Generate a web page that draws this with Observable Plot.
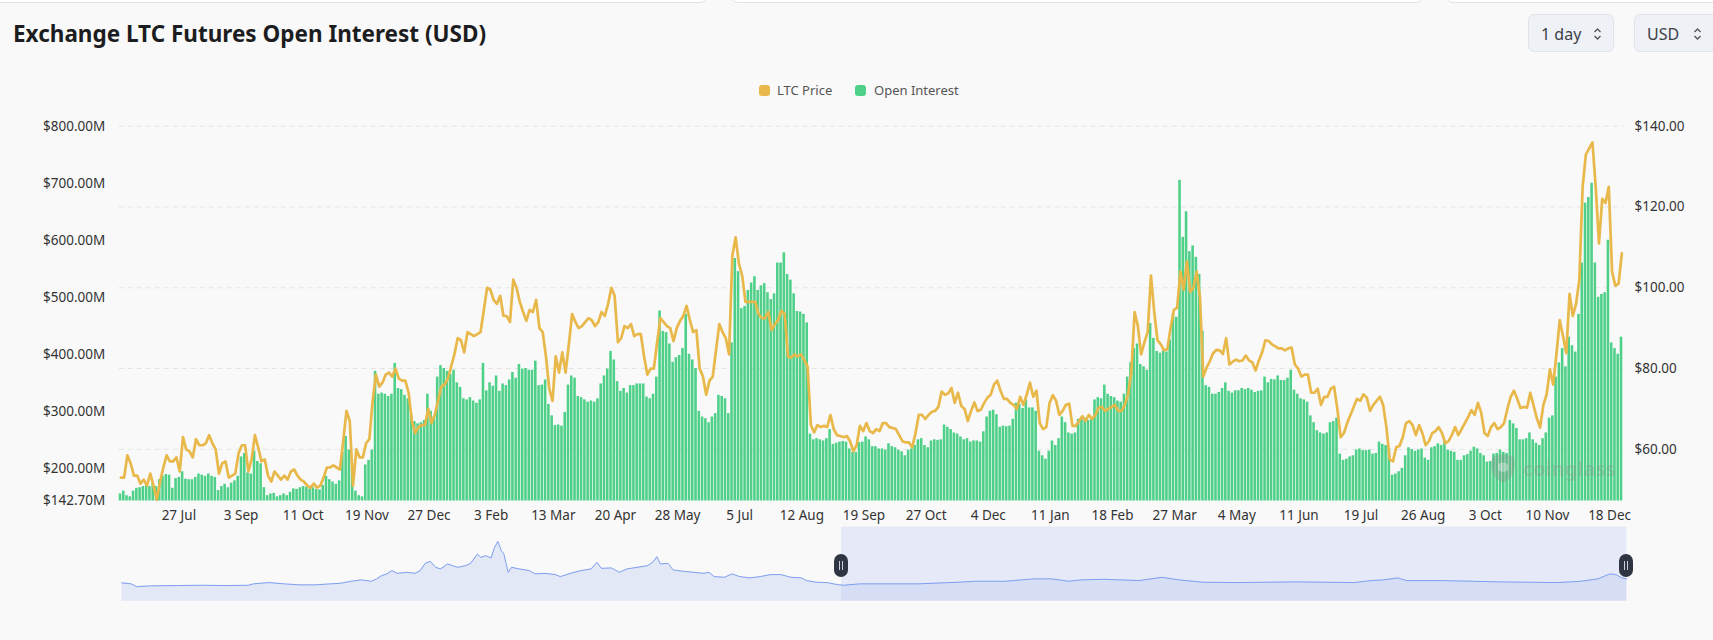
<!DOCTYPE html>
<html>
<head>
<meta charset="utf-8">
<script src="https://cdn.jsdelivr.net/npm/d3@7"></script>
<script src="https://cdn.jsdelivr.net/npm/@observablehq/plot@0.6"></script>
<style>
html,body{margin:0;padding:0;background:#f9f9f9;width:1713px;height:640px;overflow:hidden;font-family:"Noto Sans",sans-serif;}
#page{position:relative;width:1713px;height:640px;}
.card{position:absolute;top:-20px;height:23px;background:#fff;border:1px solid #e2e2e2;border-radius:8px;box-sizing:border-box;}
#title{position:absolute;left:13px;top:18px;font-size:22.5px;font-weight:700;color:#1c1d21;white-space:nowrap;}
.sel{position:absolute;top:14px;height:38px;background:#eef1f5;border:1px solid #e0e4ea;border-radius:6px;font-size:16px;color:#3c4048;box-sizing:border-box;}
.sel span{position:absolute;top:8px;}
.sel svg{position:absolute;top:12px;}
.lg{position:absolute;top:81px;font-size:13px;color:#555;white-space:nowrap;}
.sw{position:absolute;top:85px;width:11px;height:11px;border-radius:3px;}
#main{position:absolute;left:0;top:100px;}
#slider{position:absolute;left:0;top:525px;}
.handle{position:absolute;top:554px;width:14px;height:23px;border-radius:7px;background:#2f3542;}
.handle i{position:absolute;top:7px;width:1px;height:9px;background:#c9ced8;}
#wm{position:absolute;left:1523px;top:455px;font-size:19.5px;font-weight:700;color:rgba(140,140,140,0.3);letter-spacing:0.3px;}
#wmlogo{position:absolute;left:1489px;top:453px;}
</style>
</head>
<body>
<div id="page">
  <div class="card" style="left:-10px;width:718px;"></div>
  <div class="card" style="left:730px;width:694px;"></div>
  <div class="card" style="left:1445px;width:300px;"></div>
  <div id="title">Exchange LTC Futures Open Interest (USD)</div>
  <div class="sel" style="left:1528px;width:86px;"><span style="left:12px;">1 day</span>
    <svg width="9" height="14" viewBox="0 0 9 14" style="left:64px"><path d="M1.5 5 L4.5 2 L7.5 5 M1.5 9 L4.5 12 L7.5 9" fill="none" stroke="#555" stroke-width="1.4"/></svg></div>
  <div class="sel" style="left:1634px;width:95px;"><span style="left:12px;">USD</span>
    <svg width="9" height="14" viewBox="0 0 9 14" style="left:58px"><path d="M1.5 5 L4.5 2 L7.5 5 M1.5 9 L4.5 12 L7.5 9" fill="none" stroke="#555" stroke-width="1.4"/></svg></div>
  <div class="sw" style="left:759px;background:#e8b84a;"></div>
  <div class="lg" style="left:777px;">LTC Price</div>
  <div class="sw" style="left:855px;background:#4fd088;"></div>
  <div class="lg" style="left:874px;">Open Interest</div>
  <div id="main"></div>
  <svg id="wmlogo" width="28" height="31" viewBox="0 0 28 31"><path d="M3 4 Q14 -1 25 4 L26 12 Q26 24 14 30 Q2 24 2 12 Z" fill="rgba(140,140,140,0.3)"/><path d="M9 11 Q14 8 19 11 L19 17 Q14 21 9 17 Z" fill="rgba(249,249,249,0.35)"/></svg>
  <div id="wm">coinglass</div>
  <div id="slider"></div>
  <div class="handle" style="left:834px;"><i style="left:5px"></i><i style="left:8px"></i></div>
  <div class="handle" style="left:1619px;"><i style="left:5px"></i><i style="left:8px"></i></div>
</div>
<script>
// ---- Data: every 2 days from 2022-06-21 ----
const startDate = "2022-06-21";
const stepDays = 2;
const oiValues = [
155,160,152,150,160,165,166,168,170,168,
175,168,180,186,189,188,165,182,184,194,
181,180,180,184,190,188,186,190,186,184,
161,168,172,166,174,178,186,220,226,192,
190,230,212,208,166,152,155,156,150,152,
155,152,158,164,163,166,168,167,164,166,
163,162,170,186,180,176,172,178,228,256,
232,200,160,152,150,206,214,232,370,330,
332,330,326,330,384,340,338,328,322,294,
282,278,280,284,330,300,290,360,380,375,
370,365,372,350,342,322,320,324,318,314,
320,384,336,350,344,362,335,348,345,355,
368,358,382,374,375,372,372,388,345,346,
355,312,292,275,276,274,298,346,362,358,
326,324,320,316,318,316,322,348,362,374,
405,390,352,335,340,332,345,345,348,348,
348,325,322,330,360,476,440,438,418,386,
394,398,410,470,400,390,375,300,290,287,
280,290,296,328,326,322,296,420,568,545,
480,484,512,525,536,512,520,524,508,496,
506,560,560,578,540,530,506,475,474,470,
455,260,250,252,250,248,252,268,242,244,
246,247,246,234,228,228,245,246,255,250,
238,238,234,234,232,243,238,236,232,229,
222,232,234,240,250,252,240,236,248,250,
249,250,276,272,268,262,260,255,250,252,
246,248,248,246,264,290,300,302,294,272,
274,273,274,286,314,312,305,320,306,306,
300,230,222,216,230,248,240,252,290,280,
262,260,262,286,286,288,284,286,320,324,
322,346,330,326,324,318,316,330,360,385,
410,418,382,378,372,454,428,405,402,406,
404,425,470,465,705,605,650,580,590,570,
540,440,345,342,330,330,333,340,350,335,
332,336,336,340,338,340,337,333,335,336,
360,350,356,355,362,354,354,358,372,337,
330,322,320,316,292,280,266,262,260,262,
280,282,288,225,214,216,220,222,232,234,
231,231,232,225,226,246,242,240,235,188,
190,194,200,222,236,233,230,232,234,218,
214,236,238,243,240,248,232,230,228,214,
214,222,224,230,237,234,226,222,211,212,
225,226,232,228,226,284,278,270,250,250,
252,262,250,244,240,252,262,288,292,360,
385,410,378,430,415,404,470,560,665,675,
700,560,500,505,508,600,420,410,400,430];
const priceValues = [
53,53,58.5,56.5,53.5,53.5,51.5,52.5,51,54,
51,47.5,52,55.5,58.5,57,57,58,54.5,63,
60,59.5,58,62.5,61,61,61.5,63.5,61.5,60,
54,56.5,57,53,53.5,54,59,61,61,54.5,
57.5,63.5,60.5,57,57.5,53.5,52,54.5,53.5,52.5,
53.5,52.5,54.5,55,53.5,52.5,52,51,50.5,51.5,
50.5,51,53,55.5,55.5,56,55.5,55,62,69.5,
67,51,60,58,58,61.5,62.5,72,78.5,75.5,
76.5,78.5,79,78,80,77.5,77,77,74,67,
64,65.5,66,66,70,66.5,68.5,72,75.5,76,
77.5,80.5,83.5,87.5,87,84,89,88.5,88,88.5,
89,94.5,100,99.5,97,96,98,93,93,91.5,
102,100,96.5,94,91.8,94.5,94,97,90,89,
83,75,72,83,79,84,79,86,93.5,91.5,
90,90.5,91.5,92.5,92,90.5,91.5,94,93,96,
100,98,86.5,87.5,90.5,90,91,88,88.5,88.5,
83,78.5,80,80,86.5,92.5,91.5,90.5,90,86.8,
90,91.8,93,95.5,92,89,89.5,80,78,73.5,
77,78,84.5,91,89,87.5,83.5,108,112.5,106,
103,96.5,96.5,96.5,96.5,93.5,92.5,92.5,94,89.5,
91,92,94.3,93.5,83,82.7,83.5,83,83.5,82,
80.5,66,64.2,66,65.5,65.8,65.5,68.5,65,63.5,
63.3,63,63.3,62,59.5,61,65.8,64.5,66.5,64.5,
64,65,64.5,66.5,66.5,65.5,65.3,65,63.5,62,
61.7,61.7,60.5,64,68.5,68.5,67.5,68.5,69.3,69.5,
70.5,74.3,73.5,73.8,75.2,71.5,74,70.7,70,67,
69.5,71.6,69.5,69.8,71.5,72.8,73.5,76,77,74.5,
72.5,72.5,71.5,71,70,73,71,73.5,76.5,73,
74.5,66.5,65,65.5,71.5,73.4,72,68.5,69.5,71,
71.3,65.8,65.8,67,68.2,67,68.5,67.5,68.5,70.3,
70.5,69.5,70,70.5,71,69.5,69.5,71,73.5,79,
94,90.5,83.5,86.5,89,103,94,87,86,84.5,
84.8,90,94.5,95,104,99.5,106.5,99,100,104,
97.5,78,80.2,81.8,83.8,84.6,84.5,83.6,87.5,81,
81.7,82.2,81.8,82,83.2,82,81.5,79.5,82,84,
87,86.8,86,85.5,85,85,84.5,85,85.2,81,
80,78,78.5,78.5,74,74,75,71,73,73,
75,75.5,70,63,64,66.5,68.5,70.5,72.5,72,
73.6,72.8,69.5,71,72,73,71,65.5,57.5,57,
60.5,60.8,63,66.5,67,66,63.5,66,64,61,
62,64,64.5,65.5,64,61.5,62,63.5,65.5,63.5,
65,66.5,68,69.7,68.5,71.5,69,64,63.3,65.5,
66.5,65,65.5,66.5,70,73,74.5,72.5,70.2,70.5,
70.3,74,70.8,67.7,65.4,71,73.6,79.8,76,83.6,
92,88,83.8,98.5,93,96,102,125,133,134.5,
136,125,111,122,121,125,104,100.5,101,108.5];

const xTickLabels = ["2022-07-27","2022-09-03","2022-10-11","2022-11-19","2022-12-27","2023-02-03",
  "2023-03-13","2023-04-20","2023-05-28","2023-07-05","2023-08-12","2023-09-19","2023-10-27",
  "2023-12-04","2024-01-11","2024-02-18","2024-03-27","2024-05-04","2024-06-11","2024-07-19",
  "2024-08-26","2024-10-03","2024-11-10","2024-12-18"];
const oiTicks = [142.7, 200, 300, 400, 500, 600, 700, 800];
const priceTicks = [60, 80, 100, 120, 140];
const oiDomain = [142.7, 800];
const priceDomain = [47.2, 140];

// Overview (slider) series, full history, $M
const sliderDates = ["2020-03-01","2020-03-12","2020-03-18","2020-04-05","2020-05-04","2020-06-03","2020-07-03","2020-07-27","2020-08-02","2020-08-20","2020-09-07","2020-09-25","2020-10-13","2020-10-31","2020-11-12","2020-11-24","2020-12-06","2020-12-18","2020-12-24","2020-12-30","2021-01-05","2021-01-11","2021-01-17","2021-01-29","2021-02-07","2021-02-13","2021-02-19","2021-02-25","2021-03-03","2021-03-09","2021-03-17","2021-03-29","2021-04-07","2021-04-13","2021-04-21","2021-04-25","2021-05-01","2021-05-07","2021-05-11","2021-05-15","2021-05-19","2021-05-22","2021-05-27","2021-05-31","2021-06-09","2021-06-21","2021-06-27","2021-07-09","2021-07-21","2021-07-27","2021-08-08","2021-08-20","2021-09-01","2021-09-08","2021-09-13","2021-09-25","2021-10-04","2021-10-13","2021-10-25","2021-11-06","2021-11-12","2021-11-17","2021-11-21","2021-11-30","2021-12-06","2021-12-18","2021-12-30","2022-01-11","2022-01-17","2022-01-23","2022-02-04","2022-02-13","2022-02-22","2022-03-06","2022-03-18","2022-03-30","2022-04-11","2022-04-23","2022-05-05","2022-05-11","2022-05-23","2022-06-04","2022-06-16","2022-06-23","2022-07-13","2022-09-18","2022-11-04","2022-11-25","2022-12-29","2023-02-01","2023-02-22","2023-03-14","2023-03-28","2023-04-24","2023-06-04","2023-07-01","2023-07-21","2023-08-18","2023-09-28","2023-12-05","2024-02-11","2024-03-02","2024-03-16","2024-04-02","2024-04-12","2024-05-23","2024-07-30","2024-10-06","2024-11-02","2024-11-22","2024-12-06","2024-12-13","2024-12-20","2024-12-26"];
const sliderValues = [368,348,294,308,314,320,314,320,348,374,348,328,328,348,360,400,428,400,448,514,548,614,560,580,560,614,760,800,680,648,748,680,714,760,948,880,914,868,1080,1200,1014,948,580,680,648,614,548,560,534,494,560,614,648,780,660,668,580,648,680,714,780,894,748,760,628,600,580,560,580,494,480,548,494,468,494,534,534,480,468,414,380,374,334,320,348,348,380,400,400,448,448,400,428,440,414,480,428,380,374,388,374,414,428,468,414,414,388,374,400,448,548,534,468,448];
const sliderDomain = [0, 1490];
const selectionStart = "2022-06-21";

// ---- Build ----
const DAY = 864e5;
const t0 = Date.parse(startDate + "T00:00:00Z");
const rows = oiValues.map((v, i) => ({
  d0: new Date(t0 + stepDays * i * DAY),
  d1: new Date(t0 + stepDays * (i + 1) * DAY),
  mid: new Date(t0 + (stepDays * i + stepDays / 2) * DAY),
  oi: v,
  price: priceValues[i]
}));
const xEnd = new Date(t0 + stepDays * oiValues.length * DAY);
const p2y = p => oiDomain[0] + (p - priceDomain[0]) / (priceDomain[1] - priceDomain[0]) * (oiDomain[1] - oiDomain[0]);
const y2p = y => priceDomain[0] + (y - oiDomain[0]) / (oiDomain[1] - oiDomain[0]) * (priceDomain[1] - priceDomain[0]);
const fmtDay = d3.utcFormat("%-d %b");
const xTicks = xTickLabels.map(s => new Date(Date.parse(s + "T12:00:00Z")));

const main = Plot.plot({
  width: 1713, height: 440,
  marginLeft: 118.7, marginRight: 90, marginTop: 25.7, marginBottom: 39.5,
  style: {background: "transparent", fontFamily: "'Noto Sans', sans-serif", fontSize: "13.5px", color: "#333"},
  x: {type: "utc", domain: [new Date(t0), xEnd]},
  y: {domain: oiDomain},
  marks: [
    Plot.ruleY(priceTicks.map(p2y), {stroke: "#e4e4e4", strokeDasharray: "5,4", strokeWidth: 1}),
    Plot.rectY(rows, {x1: "d0", x2: "d1", y1: oiDomain[0], y2: "oi", fill: "#4fd088", insetRight: 0.7}),
    Plot.line(rows, {x: "mid", y: d => p2y(d.price), stroke: "#e8b84a", strokeWidth: 2.7, strokeLinejoin: "round"}),
    Plot.axisY(oiTicks, {anchor: "left", label: null, tickSize: 0, tickPadding: 14, fontSize: 13.5, tickFormat: v => "$" + v.toFixed(2) + "M"}),
    Plot.axisY(priceTicks.map(p2y), {anchor: "right", label: null, tickSize: 0, tickPadding: 11, fontSize: 13.5, tickFormat: v => "$" + y2p(v).toFixed(2)}),
    Plot.axisX(xTicks, {label: null, tickSize: 0, tickPadding: 9, fontSize: 13.5, tickFormat: fmtDay})
  ]
});
document.getElementById("main").appendChild(main);

const sliderRows = sliderDates.map((s, i) => ({date: new Date(Date.parse(s + "T00:00:00Z")), v: sliderValues[i]}));
const sStart = sliderRows[0].date, sEnd = sliderRows[sliderRows.length - 1].date;
const selStart = new Date(Date.parse(selectionStart + "T00:00:00Z"));
const slider = Plot.plot({
  width: 1713, height: 76,
  marginLeft: 121.4, marginRight: 86.6, marginTop: 1.5, marginBottom: 0.3,
  style: {background: "transparent"},
  x: {type: "utc", domain: [sStart, sEnd], axis: null},
  y: {domain: sliderDomain, axis: null},
  marks: [
    Plot.areaY(sliderRows, {x: "date", y: "v", fill: "#e3e8f6"}),
    Plot.rect([0], {x1: selStart, x2: sEnd, y1: sliderDomain[0], y2: sliderDomain[1], fill: "rgb(181,197,249)", fillOpacity: 0.27}),
    Plot.lineY(sliderRows, {x: "date", y: "v", stroke: "#7f9ff0", strokeWidth: 1})
  ]
});
document.getElementById("slider").appendChild(slider);
</script>
</body>
</html>
